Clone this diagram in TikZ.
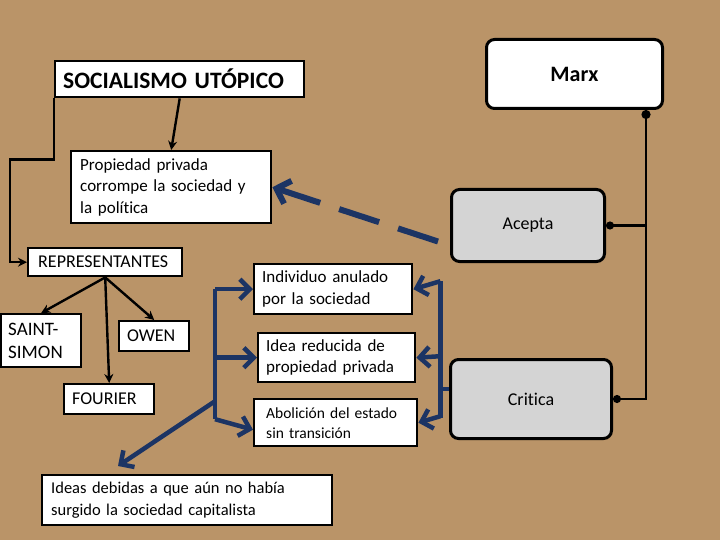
\documentclass[tikz,border=0pt]{standalone}
\usepackage{fontspec}
\setmainfont{Carlito}[Ligatures={NoCommon}]
\usetikzlibrary{arrows.meta,calc}
\definecolor{paper}{RGB}{186,148,104}
\definecolor{navy}{RGB}{28,52,100}
\definecolor{panel}{RGB}{212,212,212}
\tikzset{
  box/.style={draw=black, line width=2.4pt, fill=white, inner xsep=8pt, inner ysep=2pt,
    anchor=north west, align=left, font=\fontsize{17}{21.5}\selectfont},
  rbox/.style={draw=black, line width=3pt, rounded corners=8pt, anchor=north west,
    align=center, font=\fontsize{18}{22}\selectfont},
  capsfont/.style={font=\fontsize{18}{23}\selectfont},
  blk/.style={draw=black, line width=2.4pt, -{Stealth[length=9pt,width=9pt]}},
  dotline/.style={draw=black, line width=2.4pt},
  nv/.style={draw=navy, line width=4.5pt},
  nvarrow/.style={draw=navy, line width=4.5pt, -{Straight Barb[length=10pt,width=20pt,line width=4.5pt]}},
}
\begin{document}
\begin{tikzpicture}[x=1pt,y=-1pt]
\fill[paper] (0,0) rectangle (720,540);
\useasboundingbox (0,0) rectangle (720,540);

% nodes
\node[box, font=\fontsize{23.5}{27}\selectfont\bfseries, minimum width=249pt, minimum height=36pt, text width=233pt] (soc) at (54,60) {SOCIALISMO UTÓPICO};
\node[rbox, fill=white, minimum width=176pt, minimum height=69pt, font=\fontsize{22}{26}\selectfont\bfseries] (marx) at (485,38) {Marx};
\node[box, inner xsep=9pt, minimum width=200pt, minimum height=72pt, text width=182pt] (prop) at (70,150) {Propiedad privada\\corrompe la sociedad y\\la política};
\node[rbox, fill=panel, minimum width=153pt, minimum height=72pt] (acepta) at (450,188) {Acepta};
\node[box, capsfont, inner xsep=10pt, minimum width=154pt, minimum height=28pt, text width=134pt] (rep) at (27,247) {REPRESENTANTES};
\node[box, capsfont, font=\fontsize{19}{23}\selectfont, inner xsep=7pt, minimum width=80pt, minimum height=53pt, text width=66pt] (saint) at (0,313) {SAINT-\\SIMON};
\node[box, capsfont, minimum width=70pt, minimum height=30pt, text width=54pt] (owen) at (118,320) {OWEN};
\node[box, capsfont, minimum width=90pt, minimum height=30pt, text width=74pt] (fourier) at (63,383) {FOURIER};
\node[box, minimum width=158pt, minimum height=50pt, text width=142pt] (indiv) at (253,263) {Individuo anulado\\por la sociedad};
\node[box, minimum width=157pt, minimum height=49pt, text width=141pt] (idea) at (257,332) {Idea reducida de\\propiedad privada};
\node[box, inner xsep=12pt, minimum width=163pt, minimum height=47pt, text width=139pt, font=\fontsize{15.5}{20}\selectfont] (abol) at (253,398) {Abolición del estado\\sin transición};
\node[rbox, fill=panel, minimum width=161pt, minimum height=79pt] (critica) at (449,358) {Critica};
\node[box, inner xsep=9pt, minimum width=290pt, minimum height=50pt, text width=272pt, font=\fontsize{16.5}{21.5}\selectfont] (ideas) at (41,474) {Ideas debidas a que aún no había\\surgido la sociedad capitalista};

% black connectors
\draw[blk] (soc.south) -- (prop.north);
\draw[blk] (soc.south west) -- ++(0,61) -- ++(-44,0) |- (rep.west);
\draw[blk] (rep.south) -- (saint.north);
\draw[blk] (rep.south) -- (owen.north);
\draw[blk] (rep.south) -- (fourier.north);

% Marx connectors
\coordinate (mx) at ($(marx.south east)+(-18,0)$);
\draw[dotline, {Circle[length=9pt]}-{Circle[length=8pt]}] (mx) |- (critica.east);
\draw[dotline, -{Circle[length=8pt]}] (mx |- acepta.east) -- (acepta.east);

% dashed navy arrow
\coordinate (ds) at ($(acepta.west)+(-12,16)$);
\draw[nvarrow, line width=6pt, dash pattern=on 42pt off 20pt, -{Straight Barb[length=12pt,width=24pt,line width=6pt]}] (ds) -- (prop.east);

% left navy bracket
\coordinate (lt) at ($(indiv.west)+(-38,0)$);
\coordinate (lb) at ($(lt)+(0,130)$);
\coordinate (ld) at ($(lt)+(0,112)$);
\coordinate (ab) at ($(abol.west)+(0,7)$);
\coordinate (it) at ($(ideas.north west)+(77,-8)$);
\draw[nv] (lt) -- (lb);
\draw[nvarrow] (lt) -- (indiv.west);
\draw[nvarrow] (lt |- idea.west) -- (idea.west);
\draw[nvarrow] (lb) -- (ab);
\draw[nvarrow] (ld) -- (it);

% right navy bracket
\coordinate (rt) at ($(indiv.east)+(27,-8)$);
\coordinate (rb) at ($(rt)+(0,137)$);
\coordinate (rc) at ($(rt)+(0,108)$);
\draw[nv] (rt) -- (rb);
\draw[nvarrow] (rt) -- (indiv.east);
\draw[nvarrow] ($(rt)+(0,75)$) -- (idea.east);
\draw[nvarrow] ($(rt)+(0,135)$) -- (abol.east);
\draw[nv] (rc) -- (rc -| critica.west);
\end{tikzpicture}
\end{document}
